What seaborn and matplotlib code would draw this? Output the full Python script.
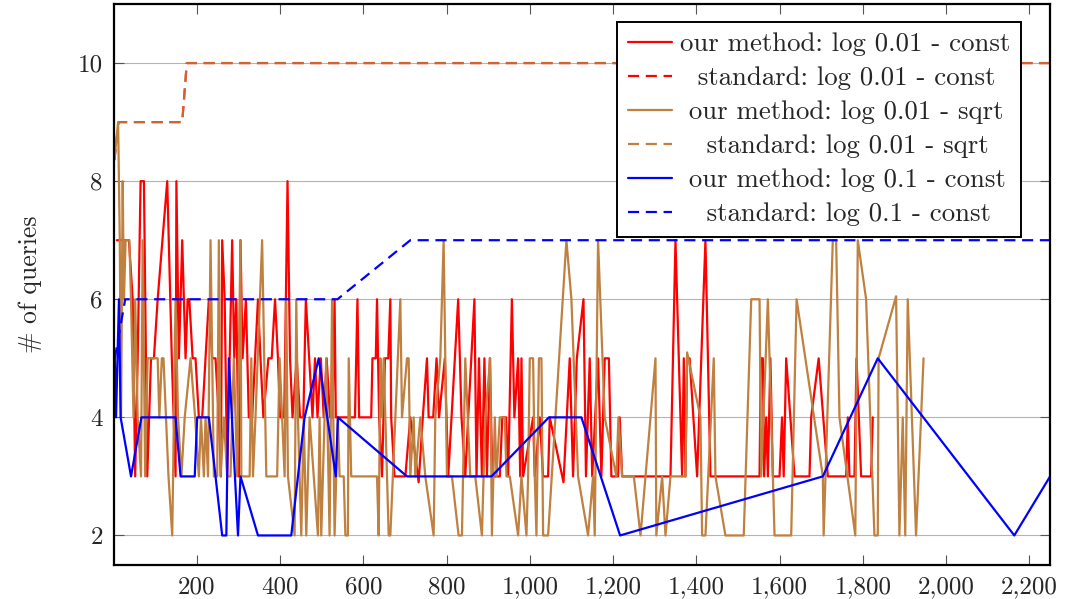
import pandas as pd
import seaborn as sns
import matplotlib.pyplot as plt
from matplotlib.ticker import FuncFormatter, MultipleLocator
from matplotlib.lines import Line2D

# our method: log 0.01 - const (red)
red_x = [8, 14, 37, 46, 52, 58, 65, 73, 81, 90, 97, 106, 129, 140, 149, 151, 157, 165, 173, 178,
         182, 190, 197, 205, 213, 229, 237, 245, 253, 258, 261, 267, 273, 279, 285, 290, 295, 301, 305, 310,
         318, 325, 333, 340, 347, 353, 360, 372, 380, 388, 395, 400, 410, 418, 424, 430, 440, 448, 456, 462,
         470, 478, 484, 490, 498, 505, 512, 520, 526, 531, 534, 540, 548, 580, 586, 590, 601, 619, 622, 630,
         633, 638, 645, 652, 660, 665, 667, 675, 701, 713, 733, 743, 753, 757, 768, 776, 782, 796, 804, 828,
         836, 845, 852, 867, 872, 878, 885, 891, 897, 904, 910, 928, 934, 943, 948, 957, 963, 972, 977, 980,
         984, 1008, 1012, 1024, 1032, 1044, 1048, 1081, 1096, 1104, 1113, 1129, 1135, 1144, 1150, 1164, 1172, 1180, 1190, 1196,
         1212, 1216, 1222, 1338, 1350, 1366, 1370, 1374, 1378, 1384, 1402, 1422, 1434, 1552, 1555, 1560, 1563, 1568, 1572, 1578,
         1584, 1600, 1606, 1610, 1616, 1636, 1672, 1676, 1694, 1716, 1760, 1764, 1768, 1780, 1785, 1796, 1820, 1824]
red_y = [7, 7, 7, 6, 3, 5, 8, 8, 3, 5, 5, 6, 8, 5, 3, 8, 5, 7, 5, 6,
         6, 5, 5, 4, 4, 6, 5, 5, 4, 3, 7, 6, 3, 5, 7, 5, 6, 3, 7, 5,
         6, 4, 4, 5, 6, 5, 4, 5, 5, 6, 5, 4, 4, 8, 5, 4, 5, 4, 4, 6,
         5, 4, 5, 4, 5, 4, 5, 4, 4, 6, 4, 4, 4, 4, 6, 4, 4, 4, 5, 5,
         6, 4, 3, 5, 5, 6, 4, 3, 3, 4, 2.9, 4, 5, 4, 4, 5, 4, 5, 3, 6,
         4, 3, 4, 6, 3, 5, 3, 5, 3, 5, 3, 3, 4, 4, 3, 6, 4, 5, 3, 5,
         3, 4, 3, 4, 3, 3, 4, 2.9, 5, 3, 5, 6, 3, 5, 3, 5, 3, 5, 5, 3,
         3, 4, 3, 3, 7, 3, 5, 3, 5, 5, 3, 7, 3, 3, 5, 5, 3, 4, 3, 5,
         3, 3, 4, 3, 5, 3, 3, 4, 5, 3, 3, 4, 3, 3, 5, 3, 3, 4]

# our method: log 0.01 - sqrt (brown)
brown_x = [2, 11, 15, 18, 22, 25, 29, 38, 42, 48, 52, 58, 66, 70, 76, 82, 106, 110, 116, 120,
           126, 132, 141, 149, 155, 163, 171, 185, 196, 205, 210, 217, 221, 227, 233, 241, 249, 253, 257, 265,
           273, 281, 289, 297, 305, 307, 327, 331, 335, 341, 357, 367, 393, 399, 411, 415, 419, 435, 439, 443,
           451, 457, 463, 471, 481, 491, 495, 499, 511, 519, 525, 531, 539, 543, 553, 557, 563, 565, 571, 633,
           637, 641, 645, 649, 661, 665, 689, 693, 705, 709, 713, 721, 725, 737, 749, 769, 773, 785, 793, 801,
           813, 829, 837, 845, 857, 869, 885, 893, 905, 909, 916, 920, 928, 940, 944, 952, 972, 980, 992, 996,
           1000, 1008, 1012, 1016, 1022, 1028, 1032, 1044, 1088, 1100, 1116, 1140, 1152, 1156, 1164, 1180, 1208, 1213, 1222, 1250,
           1266, 1302, 1304, 1318, 1326, 1338, 1374, 1378, 1410, 1414, 1422, 1442, 1446, 1470, 1514, 1532, 1552, 1556, 1572, 1588,
           1628, 1641, 1704, 1706, 1728, 1736, 1744, 1782, 1788, 1808, 1828, 1836, 1838, 1880, 1888, 1896, 1902, 1908, 1928, 1946]
brown_y = [8.36, 9, 7, 4, 8, 6, 7, 7, 6, 4, 6, 4, 3, 7, 3, 5, 5, 4, 5, 5,
           4, 3, 2, 6, 4, 3, 4, 5, 4, 3, 4, 3, 4, 3, 7, 3, 3, 7, 3, 4,
           3, 3, 5, 3, 7, 3, 3, 5, 3, 4, 7, 3, 3, 5, 3, 6, 3, 2, 6, 4,
           2, 4, 2, 4, 3, 2, 4, 2, 5, 2, 6, 2, 4, 3, 3, 2, 2, 5, 3, 3,
           2, 5, 4, 5, 2, 2, 6, 4, 5, 5, 3, 4, 3, 4, 3, 2, 4, 5, 7, 3,
           3, 2, 2, 5, 3, 3, 2, 4, 5, 2, 4, 3, 4, 4, 3, 3, 2, 3, 2, 3,
           5, 5, 3, 2, 5, 5, 2, 2, 7, 6, 3, 2, 3, 2, 7, 4, 3, 4, 3, 3,
           2, 5, 2, 3, 2, 3, 3, 5.1, 4, 2, 2, 5, 3, 2, 2, 6, 6, 3, 6, 2,
           2, 6, 3, 2, 7, 7, 4, 2, 7, 6, 2, 2, 5, 6.05, 2, 4, 2, 6, 2, 5]

# our method: log 0.1 - const (blue)
blue_x = [3, 6, 13, 17, 42, 67, 149, 161, 195, 201, 229, 261, 271, 277, 299, 305, 347, 427, 459, 493,
          534, 539, 705, 908, 1046, 1124, 1217, 1704, 1836, 2164, 2250]
blue_y = [5, 4, 6, 4, 3, 4, 4, 3, 3, 4, 4, 2, 2, 5, 2, 3, 2, 2, 4, 5,
          3, 4, 3, 3, 4, 4, 2, 3, 5, 2, 3]

# standard curves
std001_x = [2, 12, 165, 176, 2250]
std001_y = [8.36, 9, 9, 10, 10]
std01_x = [3, 28, 538, 713, 2250]
std01_y = [5, 6, 6, 7, 7]

labels = ['our method: log 0.01 - const', '  standard: log 0.01 - const',
          ' our method: log 0.01 - sqrt', '   standard: log 0.01 - sqrt',
          ' our method: log 0.1 - const', '   standard: log 0.1 - const']

RED, BROWN, BLUE = '#ff0000', '#bf8040', '#0000ff'
dash = (0, (5, 3))

sns.set_theme(style='white')
plt.rcParams['font.family'] = 'serif'
plt.rcParams['font.serif'] = ['cmr10', 'DejaVu Serif']
plt.rcParams['axes.formatter.use_mathtext'] = True

fig = plt.figure(figsize=(10.65, 5.99), dpi=100)
ax = fig.add_axes([0.107, 0.0568, 0.879, 0.9365])

lw = 1.6
sns.lineplot(x=red_x, y=red_y, ax=ax, color=RED, lw=lw, estimator=None, sort=False)
sns.lineplot(x=std001_x, y=std001_y, ax=ax, color=RED, lw=lw, linestyle=dash, estimator=None, sort=False)
sns.lineplot(x=brown_x, y=brown_y, ax=ax, color=BROWN, lw=lw, estimator=None, sort=False)
sns.lineplot(x=std001_x, y=std001_y, ax=ax, color=BROWN, lw=lw, linestyle=dash, alpha=0.8,
             estimator=None, sort=False)
sns.lineplot(x=blue_x, y=blue_y, ax=ax, color=BLUE, lw=lw, estimator=None, sort=False)
sns.lineplot(x=std01_x, y=std01_y, ax=ax, color=BLUE, lw=lw, linestyle=dash, estimator=None, sort=False)

ax.set_xlim(1, 2250)
ax.set_ylim(1.5, 11)
ax.xaxis.set_major_locator(MultipleLocator(200))
ax.yaxis.set_major_locator(MultipleLocator(2))
ax.xaxis.set_major_formatter(FuncFormatter(lambda v, p: f'{v:,.0f}'))
ax.yaxis.set_major_formatter(FuncFormatter(lambda v, p: f'{v:.0f}'))
ax.grid(axis='y', color='#b4b4b4', lw=0.8)
ax.grid(axis='x', visible=False)
ax.tick_params(direction='in', length=7, width=0.8, color='#555555', labelsize=18,
               top=True, right=True, bottom=True, left=True, pad=8)
for s in ax.spines.values():
    s.set_color('black')
    s.set_linewidth(1.6)
ax.set_ylabel('# of queries', fontsize=18.5, labelpad=26)
ax.set_xlabel('')

handles = [Line2D([], [], color=RED, lw=lw),
           Line2D([], [], color=RED, lw=lw, linestyle=dash),
           Line2D([], [], color=BROWN, lw=lw),
           Line2D([], [], color=BROWN, lw=lw, linestyle=dash),
           Line2D([], [], color=BLUE, lw=lw),
           Line2D([], [], color=BLUE, lw=lw, linestyle=dash)]
leg = ax.legend(handles, labels, loc='upper right', bbox_to_anchor=(0.969, 0.968),
                borderaxespad=0, fontsize=19.3, handlelength=1.65, handletextpad=0.3,
                labelspacing=0.38, borderpad=0.4, fancybox=False, framealpha=1,
                edgecolor='black')
leg.get_frame().set_linewidth(1.4)

plt.savefig('out.png', dpi=100)
